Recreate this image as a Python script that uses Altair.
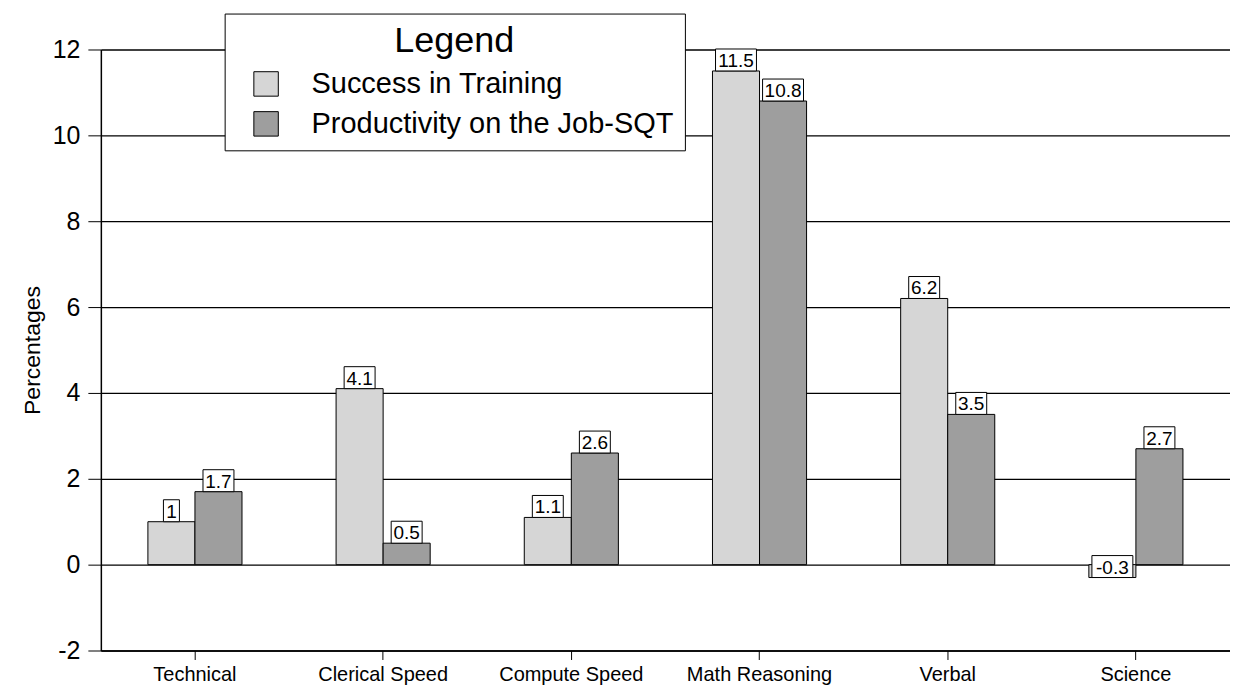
import altair as alt
import pandas as pd

categories = ["Technical", "Clerical Speed", "Compute Speed", "Math Reasoning", "Verbal", "Science"]
series = ["Success in Training", "Productivity on the Job-SQT"]
success = [1, 4.1, 1.1, 11.5, 6.2, -0.3]
productivity = [1.7, 0.5, 2.6, 10.8, 3.5, 2.7]
y_ticks = [-2, 0, 2, 4, 6, 8, 10, 12]

rows = []
for c, s, p in zip(categories, success, productivity):
    for name, v in ((series[0], s), (series[1], p)):
        lab = f"{v:g}"
        rows.append({"category": c, "series": name, "value": v, "label": lab, "w": str(len(lab))})
df = pd.DataFrame(rows)

FONT = "Liberation Sans"
box_paths = [
    "M -0.8 -1.1 L 0.8 -1.1 L 0.8 1.1 L -0.8 1.1 Z",
    "M -1.55 -1.1 L 1.55 -1.1 L 1.55 1.1 L -1.55 1.1 Z",
    "M -2.05 -1.1 L 2.05 -1.1 L 2.05 1.1 L -2.05 1.1 Z",
]

x_enc = alt.X(
    "category:N", sort=categories, title=None,
    scale=alt.Scale(paddingInner=0.5, paddingOuter=0.25),
    axis=alt.Axis(labelAngle=0, labelFontSize=20, labelFont=FONT, labelColor="black",
                  tickColor="black", tickSize=9, domainColor="black", domainWidth=1.5,
                  labelPadding=5, grid=False),
)
xoff_enc = alt.XOffset("series:N", sort=series, scale=alt.Scale(paddingInner=0, paddingOuter=0))
y_scale = alt.Scale(domain=[-2, 12], nice=False, zero=False)

base = alt.Chart(df).encode(x=x_enc, xOffset=xoff_enc)

bars = base.mark_bar(stroke="black", strokeWidth=1).encode(
    y=alt.Y("value:Q", scale=y_scale, title="Percentages",
            axis=alt.Axis(values=y_ticks, labelExpr="datum.value + ''",
                          labelFontSize=25, labelFont=FONT, labelColor="black",
                          tickColor="black", tickSize=13, labelPadding=8,
                          domainColor="black", domainWidth=1.5,
                          grid=True, gridColor="black", gridWidth=1.3, gridOpacity=1,
                          titleFontSize=23, titleFont=FONT, titleFontWeight="normal",
                          titleColor="black", titlePadding=8)),
    color=alt.Color("series:N", sort=series,
                    scale=alt.Scale(domain=series, range=["#d6d6d6", "#9e9e9e"]),
                    legend=alt.Legend(
                        title="Legend", orient="none", legendX=124, legendY=-36,
                        fillColor="white", strokeColor="black", padding=11,
                        titleFontSize=36, titleFont=FONT, titleFontWeight="normal",
                        titleColor="black", titleAnchor="middle", titleAlign="center",
                        titlePadding=9, labelFontSize=29, labelFont=FONT, labelColor="black",
                        symbolType="square", symbolSize=600, symbolStrokeColor="black",
                        symbolStrokeWidth=1, symbolOffset=16, labelOffset=31, rowPadding=10,
                        labelLimit=600)),
)

boxes = base.mark_point(filled=True, fill="white", stroke="black", strokeWidth=1,
                        size=400, opacity=1, yOffset=-11).encode(
    y=alt.Y("value:Q", scale=y_scale),
    shape=alt.Shape("w:N", scale=alt.Scale(domain=["1", "3", "4"], range=box_paths), legend=None),
)

texts = base.mark_text(yOffset=-10, fontSize=19, font=FONT, color="black", baseline="middle").encode(
    y=alt.Y("value:Q", scale=y_scale),
    text="label:N",
)

chart = alt.layer(bars, boxes, texts).properties(
    width=1131, height=602,
    padding={"left": 93, "top": 41, "right": 0, "bottom": 40},
    autosize=alt.AutoSizeParams(type="none"),
    background="white",
).configure_view(stroke=None)

chart.save("out.html", embed_options={"renderer": "svg", "actions": False})
